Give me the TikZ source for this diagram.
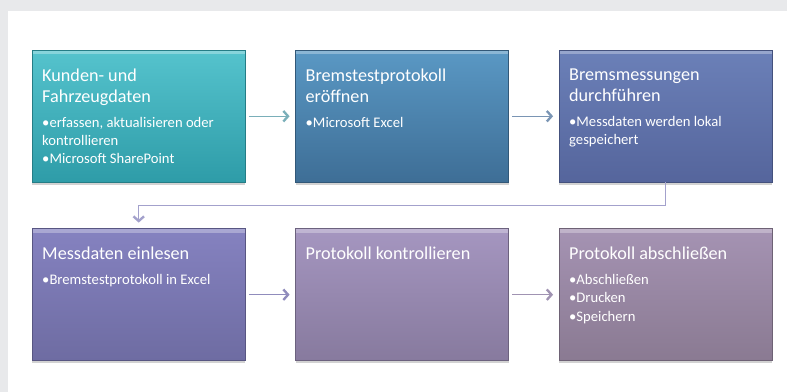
\documentclass[tikz,border=0pt]{standalone}
\usepackage{fontspec}
\setmainfont{Carlito}
\usetikzlibrary{arrows.meta,positioning,shadows}
\setlength{\parindent}{0pt}

\definecolor{bggray}{HTML}{E8E9EB}
\definecolor{tealtop}{HTML}{55C3CD}
\definecolor{tealbot}{HTML}{2E9CA8}
\definecolor{steeltop}{HTML}{5A98C4}
\definecolor{steelbot}{HTML}{3E6E96}
\definecolor{indigotop}{HTML}{6B80B8}
\definecolor{indigobot}{HTML}{55659C}
\definecolor{violettop}{HTML}{8582C0}
\definecolor{violetbot}{HTML}{6E6CA2}
\definecolor{lilactop}{HTML}{A596C0}
\definecolor{lilacbot}{HTML}{877A9E}
\definecolor{mauvetop}{HTML}{A593B3}
\definecolor{mauvebot}{HTML}{8A7A92}
\definecolor{arrowa}{HTML}{7AAFB9}
\definecolor{arrowb}{HTML}{7A95B4}
\definecolor{arrowc}{HTML}{908CBC}
\definecolor{arrowd}{HTML}{A093B2}
\definecolor{connline}{HTML}{A3A1CC}

% gap under a box title, and one bullet line
\newcommand{\tgap}{\par\vspace{6pt}}
\newcommand{\bul}[1]{\par{\fontsize{12.5}{15.5}\selectfont\hangindent=5pt\hangafter=1 •#1\par}}

\tikzset{
    stepbox/.style={minimum width=6.39cm, minimum height=3.96cm, inner sep=0pt,
        drop shadow={shadow xshift=0pt, shadow yshift=-2pt, opacity=0.35},
        path picture={\fill[white,opacity=0.3] (path picture bounding box.north west) rectangle ([yshift=-0.12cm]path picture bounding box.north east);}},
    boxtext/.style={anchor=north west, text width=5.8cm, align=flush left, inner sep=0pt,
        text=white, font=\fontsize{15.5}{18}\selectfont},
    flow/.style={line width=1pt, -{Straight Barb[length=4pt,width=9pt,line width=2pt]},
        shorten <=3pt, shorten >=5pt}
}

\begin{document}
\begin{tikzpicture}
    \useasboundingbox (0,0) rectangle (23.61,11.76);
    % background
    \fill[bggray] (0,0) rectangle (23.61,11.76);
    \fill[white] (0.24,0) rectangle (23.61,11.43);

    % first row
    \node[stepbox, top color=tealtop, bottom color=tealbot, draw=tealbot!80!black, anchor=north west] (b1) at (0.96,10.26) {};
    \node[stepbox, top color=steeltop, bottom color=steelbot, draw=steelbot!80!black, right=1.5cm of b1] (b2) {};
    \node[stepbox, top color=indigotop, bottom color=indigobot, draw=indigobot!80!black, right=1.5cm of b2] (b3) {};

    % second row
    \node[stepbox, top color=violettop, bottom color=violetbot, draw=violetbot!80!black, below=1.38cm of b1] (b4) {};
    \node[stepbox, top color=lilactop, bottom color=lilacbot, draw=lilacbot!80!black, right=1.5cm of b4] (b5) {};
    \node[stepbox, top color=mauvetop, bottom color=mauvebot, draw=mauvebot!80!black, right=1.5cm of b5] (b6) {};

    % texts
    \node[boxtext] (t1) at ([xshift=0.3cm,yshift=-0.55cm]b1.north west)
        {Kunden- und\\Fahrzeugdaten\tgap
         \bul{erfassen, aktualisieren oder\\kontrollieren}
         \bul{Microsoft SharePoint}};
    \node[boxtext] (t2) at ([xshift=0.3cm,yshift=-0.55cm]b2.north west)
        {Bremstestprotokoll\\eröffnen\tgap
         \bul{Microsoft Excel}};
    \node[boxtext] (t3) at ([xshift=0.3cm,yshift=-0.55cm]b3.north west)
        {Bremsmessungen\\durchführen\tgap
         \bul{Messdaten werden lokal\\gespeichert}};
    \node[boxtext] (t4) at ([xshift=0.3cm,yshift=-0.55cm]b4.north west)
        {Messdaten einlesen\tgap
         \bul{Bremstestprotokoll in Excel}};
    \node[boxtext] (t5) at ([xshift=0.3cm,yshift=-0.55cm]b5.north west)
        {Protokoll kontrollieren};
    \node[boxtext] (t6) at ([xshift=0.3cm,yshift=-0.55cm]b6.north west)
        {Protokoll abschließen\tgap
         \bul{Abschließen}
         \bul{Drucken}
         \bul{Speichern}};

    % arrows
    \draw[flow, arrowa] (b1) -- (b2);
    \draw[flow, arrowb] (b2) -- (b3);
    \draw[flow, connline, line width=1.3pt, shorten <=0pt] (b3.south) -- ++(0,-0.69) -| (b4.north);
    \draw[flow, arrowc] (b4) -- (b5);
    \draw[flow, arrowd] (b5) -- (b6);
\end{tikzpicture}
\end{document}
